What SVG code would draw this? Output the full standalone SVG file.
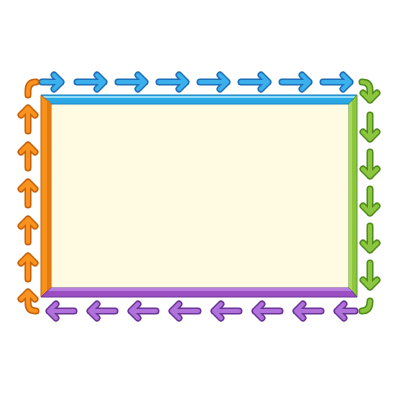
<svg xmlns="http://www.w3.org/2000/svg" xmlns:xlink="http://www.w3.org/1999/xlink" width="400" height="400" viewBox="0 0 400 400">
<style>
.ar{fill:none;stroke-linecap:round;stroke-linejoin:round}
.o{stroke-width:7}
.f{stroke-width:4}
.bo{stroke:#1d6fb8}.bf{stroke:#3cb0ec}
.go{stroke:#4f8c1c}.gf{stroke:#8cc63f}
.po{stroke:#6a3596}.pf{stroke:#b072da}
.oo{stroke:#c95f08}.of{stroke:#f7931e}
</style>
<defs>
<g id="blue">
<path d="M42 82H61M54 75L61 82L54 89"/>
<path d="M77 82H104M97 75L104 82L97 89"/>
<path d="M118 82H145M138 75L145 82L138 89"/>
<path d="M159 82H186M179 75L186 82L179 89"/>
<path d="M200 82H227M220 75L227 82L220 89"/>
<path d="M241 82H268M261 75L268 82L261 89"/>
<path d="M282 82H309M302 75L309 82L302 89"/>
<path d="M323 82H350M343 75L350 82L343 89"/>
</g>
<g id="green">
<path d="M362 82Q370 82 370 90V100M363 93L370 100L377 93"/>
<path d="M370 115V139M363 132L370 139L377 132"/>
<path d="M370 152V176M363 169L370 176L377 169"/>
<path d="M370 189V213M363 206L370 213L377 206"/>
<path d="M370 226V250M363 243L370 250L377 243"/>
<path d="M370 263V287M363 280L370 287L377 280"/>
<path d="M370 301Q370 311 362 311"/>
</g>
<g id="purple">
<path d="M355 311H337M344 304L337 311L344 318"/>
<path d="M321 311H296M303 304L296 311L303 318"/>
<path d="M280 311H255M262 304L255 311L262 318"/>
<path d="M239 311H214M221 304L214 311L221 318"/>
<path d="M198 311H172M179 304L172 311L179 318"/>
<path d="M156 311H131M138 304L131 311L138 318"/>
<path d="M115 311H90M97 304L90 311L97 318"/>
<path d="M74 311H49M56 304L49 311L56 318"/>
</g>
<g id="orange">
<path d="M36 311Q28 311 28 303V292M21 299L28 292L35 299"/>
<path d="M28 279V256M21 263L28 256L35 263"/>
<path d="M28 242V219M21 226L28 219L35 226"/>
<path d="M28 205V182M21 189L28 182L35 189"/>
<path d="M28 168V145M21 152L28 145L35 152"/>
<path d="M28 131V108M21 115L28 108L35 115"/>
<path d="M28 95V91Q28 82 36 82"/>
</g>
</defs>
<g id="frame">
<rect x="50" y="103" width="300" height="186" fill="#fffbe2" stroke="#f3ecc8" stroke-width="1.5"/>
<polygon points="41,95 357,95 349,104 51,104" fill="#2aa8e4" stroke="#1a7fc0" stroke-width="1"/>
<polygon points="42,96 356,96 354,98 44,98" fill="#8fdcf8"/>
<polygon points="41,95 51,104 51,288 41,297" fill="#f7921c" stroke="#c8620a" stroke-width="1"/>
<polygon points="47,99 51,104 51,288 47,292" fill="#e27a10"/>
<polygon points="357,95 349,104 349,288 357,297" fill="#8cc63f" stroke="#5c9a24" stroke-width="1"/>
<polygon points="349,104 352,101 352,291 349,288" fill="#a8d85c"/>
<polygon points="41,297 51,288 349,288 357,297" fill="#9a4ec2" stroke="#6a3596" stroke-width="1"/>
<polygon points="51,288 349,288 352,291 48,291" fill="#b77edc"/>
</g>
<g id="connectors" class="ar">
<use xlink:href="#blue" class="o bo"/><use xlink:href="#blue" class="f bf"/>
<use xlink:href="#green" class="o go"/><use xlink:href="#green" class="f gf"/>
<use xlink:href="#purple" class="o po"/><use xlink:href="#purple" class="f pf"/>
<use xlink:href="#orange" class="o oo"/><use xlink:href="#orange" class="f of"/>
</g>
</svg>
